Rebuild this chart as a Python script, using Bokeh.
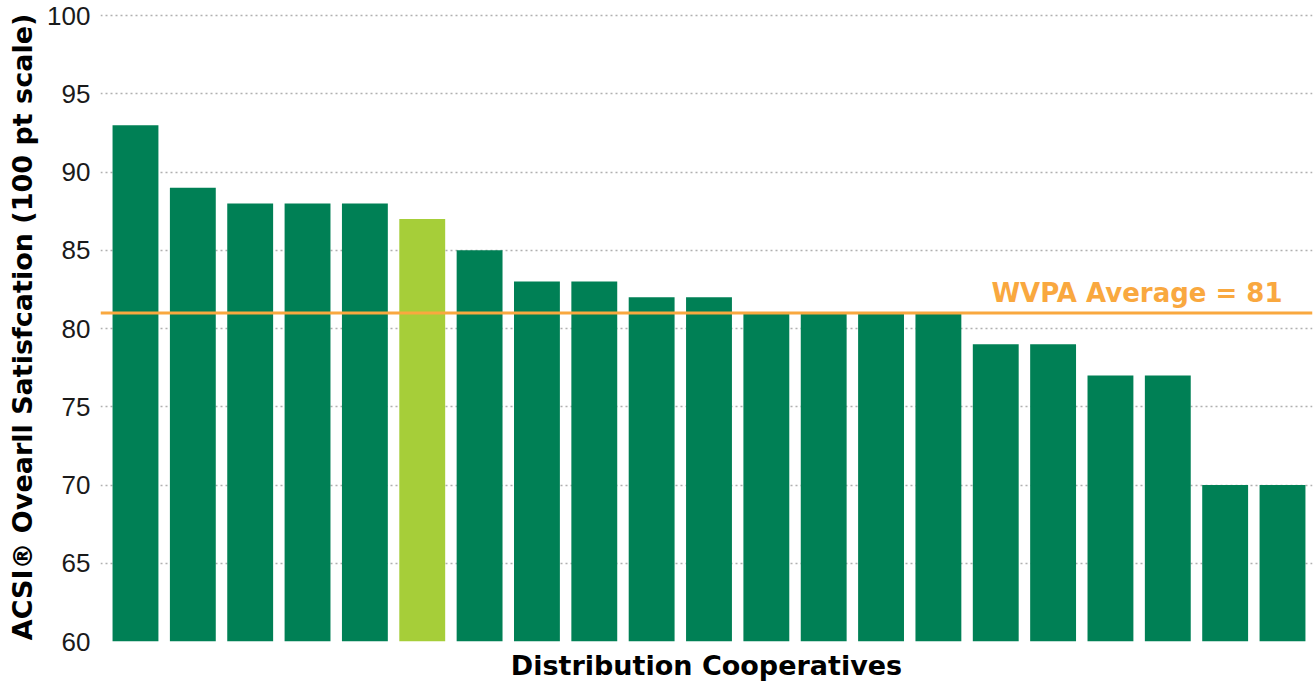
from bokeh.plotting import figure
from bokeh.models import Range1d, Span, Label, FixedTicker, ColumnDataSource
from bokeh.embed import file_html
from bokeh.resources import INLINE

# Data
cooperatives = [f"Co-op {i}" for i in range(1, 22)]
scores = [93, 89, 88, 88, 88, 87, 85, 83, 83, 82, 82, 81, 81, 81, 81, 79, 79, 77, 77, 70, 70]
highlight_index = 5
wvpa_average = 81
y_ticks = [60, 65, 70, 75, 80, 85, 90, 95, 100]

GREEN = "#008055"
LIGHT_GREEN = "#A6CE39"
ORANGE = "#F9A83F"

positions = list(range(1, len(scores) + 1))
colors = [LIGHT_GREEN if i == highlight_index else GREEN for i in range(len(scores))]
src = ColumnDataSource(dict(x=positions, top=scores, color=colors, name=cooperatives))

p = figure(width=1314, height=683, output_backend="svg", toolbar_location=None,
           x_range=Range1d(0.39, 21.523), y_range=Range1d(60, 100.2),
           min_border_left=100, min_border_right=2, min_border_top=12, min_border_bottom=40)
p.outline_line_color = None
p.background_fill_color = "white"

p.vbar(x="x", top="top", bottom=60, width=0.8, color="color", line_color=None, source=src)

p.add_layout(Span(location=wvpa_average, dimension="width", line_color=ORANGE, line_width=3))
p.add_layout(Label(x=21, y=wvpa_average, text=f"WVPA Average = {wvpa_average}",
                   text_align="right", text_baseline="alphabetic", y_offset=20,
                   text_color=ORANGE, text_font="DejaVu Sans", text_font_style="bold",
                   text_font_size="26px"))

# grid
p.xgrid.grid_line_color = None
p.ygrid.grid_line_color = "#B0B0B0"
p.ygrid.grid_line_dash = "2 3"
p.ygrid.grid_line_width = 1.5
p.ygrid.level = "underlay"

# y axis
p.yaxis.ticker = FixedTicker(ticks=y_ticks)
p.yaxis.axis_line_color = None
p.yaxis.major_tick_line_color = None
p.yaxis.minor_tick_line_color = None
p.yaxis.major_tick_out = 0
p.yaxis.major_label_standoff = 10
p.yaxis.major_label_text_font = "Liberation Sans"
p.yaxis.major_label_text_font_size = "26px"
p.yaxis.major_label_text_color = "#1A1A1A"
p.yaxis.axis_label = "ACSI® Ovearll Satisfcation (100 pt scale)"
p.yaxis.axis_label_text_font = "DejaVu Sans"
p.yaxis.axis_label_text_font_style = "bold"
p.yaxis.axis_label_text_font_size = "27px"
p.yaxis.axis_label_text_color = "#000000"
p.yaxis.axis_label_standoff = 6

# x axis
p.xaxis.ticker = FixedTicker(ticks=[])
p.xaxis.axis_line_color = None
p.xaxis.major_tick_line_color = None
p.xaxis.minor_tick_line_color = None
p.xaxis.major_tick_out = 0
p.xaxis.major_label_standoff = 0
p.xaxis.major_label_text_font_size = "0px"
p.xaxis.axis_label = "Distribution Cooperatives"
p.xaxis.axis_label_text_font = "DejaVu Sans"
p.xaxis.axis_label_text_font_style = "bold"
p.xaxis.axis_label_text_font_size = "27px"
p.xaxis.axis_label_text_color = "#000000"
p.xaxis.axis_label_standoff = 8

open("out.html", "w").write(file_html(p, INLINE))
